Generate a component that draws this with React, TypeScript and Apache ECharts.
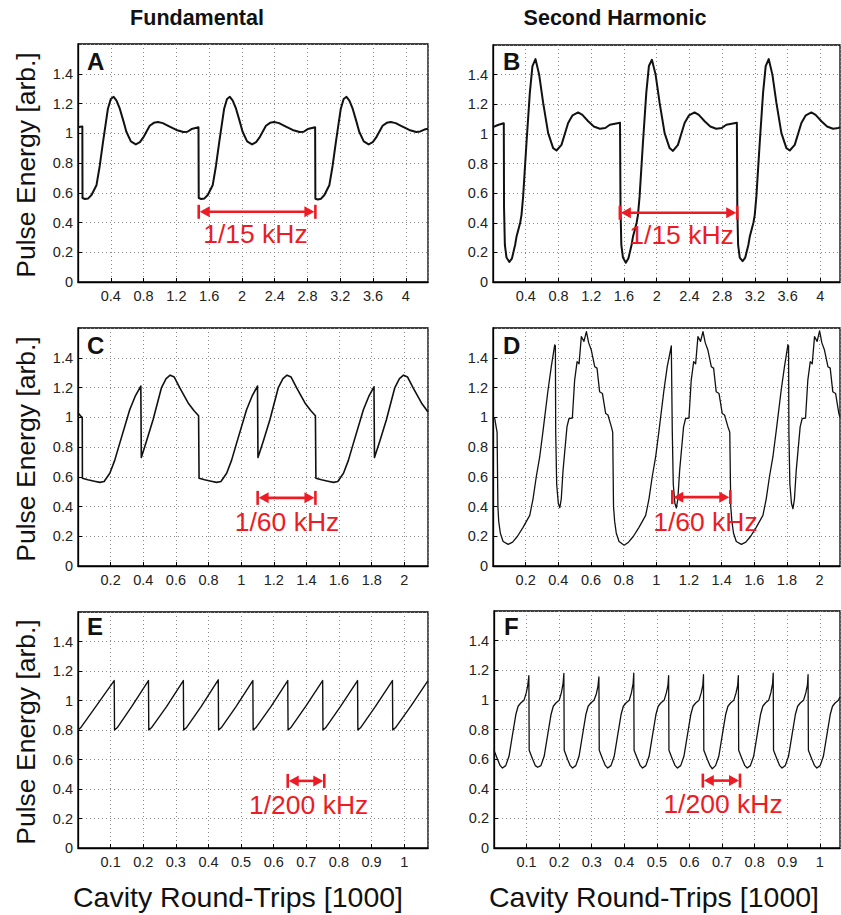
import React, { useEffect, useRef } from 'react';
import * as echarts from 'echarts';

const FONT = '"Liberation Sans", Arial, Helvetica, sans-serif';
const RED = '#ED1C24';
const LINE = '#111111';

const columnTitles = ['Fundamental', 'Second Harmonic'];
const panelLetters = ['A', 'B', 'C', 'D', 'E', 'F'];
const yAxisTitle = 'Pulse Energy [arb.]';
const xAxisTitle = 'Cavity Round-Trips [1000]';

// x-axis extents and tick spacings [1000 round-trips]
const xMax = [4.27, 4.24, 2.145, 2.125, 1.073, 1.062];
const xInterval = [0.4, 0.4, 0.2, 0.2, 0.1, 0.1];
const yMax = 1.6;
const yInterval = 0.2;

// Panel A: fundamental, 15 kHz modulation
const seriesA = [
  [0, 1.04], [0.03, 1.043], [0.053, 1.045], [0.055, 0.565], [0.085, 0.558], [0.125, 0.562], [0.165, 0.585], [0.225, 0.65], [0.265, 0.78], [0.305, 0.94], [0.365, 1.165], [0.4, 1.23], [0.435, 1.245], [0.47, 1.22], [0.51, 1.165], [0.555, 1.08], [0.59, 1.01], [0.645, 0.945], [0.705, 0.925], [0.755, 0.94], [0.795, 0.97], [0.875, 1.05], [0.925, 1.07], [0.975, 1.075], [1.035, 1.068], [1.1, 1.05], [1.2, 1.022], [1.285, 1.008], [1.335, 1.01], [1.385, 1.028], [1.47, 1.04],
  [1.473, 0.565], [1.503, 0.558], [1.543, 0.562], [1.583, 0.585], [1.643, 0.65], [1.683, 0.78], [1.723, 0.94], [1.783, 1.165], [1.818, 1.23], [1.853, 1.245], [1.888, 1.22], [1.928, 1.165], [1.973, 1.08], [2.008, 1.01], [2.063, 0.945], [2.123, 0.925], [2.173, 0.94], [2.213, 0.97], [2.293, 1.05], [2.343, 1.07], [2.393, 1.075], [2.453, 1.068], [2.518, 1.05], [2.618, 1.022], [2.703, 1.008], [2.753, 1.01], [2.803, 1.028], [2.893, 1.04],
  [2.896, 0.56], [2.926, 0.555], [2.966, 0.56], [3.006, 0.585], [3.066, 0.65], [3.106, 0.78], [3.146, 0.94], [3.206, 1.165], [3.241, 1.23], [3.276, 1.245], [3.311, 1.22], [3.351, 1.165], [3.396, 1.08], [3.431, 1.01], [3.486, 0.945], [3.546, 0.925], [3.596, 0.94], [3.636, 0.97], [3.716, 1.05], [3.766, 1.07], [3.816, 1.075], [3.876, 1.068], [3.941, 1.05], [4.041, 1.022], [4.126, 1.008], [4.176, 1.012], [4.226, 1.025], [4.27, 1.03],
];

// Panel B: second harmonic, 15 kHz modulation
const seriesB = [
  [0, 1.045], [0.06, 1.06], [0.12, 1.07], [0.132, 1.072], [0.135, 0.5], [0.145, 0.25], [0.165, 0.165], [0.2, 0.135], [0.232, 0.16], [0.27, 0.25], [0.287, 0.305], [0.332, 0.4], [0.348, 0.452], [0.368, 0.576], [0.409, 0.938], [0.45, 1.277], [0.482, 1.458], [0.519, 1.505], [0.564, 1.4], [0.613, 1.209], [0.674, 1.005], [0.735, 0.904], [0.776, 0.888], [0.837, 0.926], [0.918, 1.073], [0.972, 1.125], [1.04, 1.145], [1.092, 1.128], [1.163, 1.085], [1.232, 1.05], [1.305, 1.035], [1.372, 1.04], [1.428, 1.062], [1.552, 1.075],
  [1.558, 0.5], [1.568, 0.25], [1.588, 0.165], [1.623, 0.13], [1.655, 0.16], [1.693, 0.25], [1.71, 0.305], [1.755, 0.4], [1.771, 0.452], [1.791, 0.576], [1.832, 0.938], [1.873, 1.277], [1.905, 1.458], [1.942, 1.5], [1.987, 1.4], [2.036, 1.209], [2.097, 1.005], [2.158, 0.904], [2.199, 0.885], [2.26, 0.926], [2.341, 1.073], [2.395, 1.125], [2.463, 1.145], [2.515, 1.128], [2.586, 1.085], [2.655, 1.05], [2.728, 1.035], [2.795, 1.04], [2.851, 1.062], [2.98, 1.075],
  [2.985, 0.5], [2.995, 0.25], [3.015, 0.165], [3.05, 0.14], [3.082, 0.165], [3.12, 0.25], [3.137, 0.305], [3.182, 0.4], [3.198, 0.452], [3.218, 0.576], [3.259, 0.938], [3.3, 1.277], [3.332, 1.458], [3.369, 1.505], [3.414, 1.4], [3.463, 1.209], [3.524, 1.005], [3.585, 0.904], [3.626, 0.888], [3.687, 0.926], [3.768, 1.073], [3.822, 1.125], [3.89, 1.145], [3.942, 1.128], [4.013, 1.085], [4.082, 1.05], [4.155, 1.035], [4.222, 1.04], [4.24, 1.045],
];

// Panel C: fundamental, 60 kHz modulation
const seriesC = [
  [0, 1.03], [0.015, 1.01], [0.026, 1.0], [0.027, 0.59], [0.06, 0.58], [0.1, 0.57], [0.134, 0.562], [0.16, 0.568], [0.195, 0.623], [0.225, 0.71], [0.256, 0.826], [0.317, 1.05], [0.35, 1.14], [0.385, 1.21], [0.388, 0.73], [0.42, 0.84], [0.46, 0.983], [0.511, 1.197], [0.54, 1.26], [0.565, 1.283], [0.59, 1.27], [0.624, 1.197], [0.675, 1.096], [0.71, 1.045], [0.739, 1.01],
  [0.742, 0.59], [0.776, 0.58], [0.816, 0.57], [0.85, 0.562], [0.876, 0.568], [0.911, 0.623], [0.941, 0.71], [0.972, 0.826], [1.033, 1.05], [1.066, 1.14], [1.1, 1.21], [1.103, 0.73], [1.136, 0.84], [1.176, 0.983], [1.227, 1.197], [1.256, 1.26], [1.281, 1.283], [1.306, 1.27], [1.34, 1.197], [1.391, 1.096], [1.426, 1.045], [1.455, 1.01],
  [1.458, 0.59], [1.492, 0.58], [1.532, 0.57], [1.566, 0.562], [1.592, 0.568], [1.627, 0.623], [1.657, 0.71], [1.688, 0.826], [1.749, 1.05], [1.782, 1.14], [1.814, 1.205], [1.817, 0.73], [1.85, 0.84], [1.89, 0.983], [1.941, 1.197], [1.97, 1.26], [1.995, 1.283], [2.02, 1.27], [2.054, 1.197], [2.105, 1.096], [2.145, 1.035],
];

// Panel D: second harmonic, 60 kHz modulation
const seriesD = [
  [0, 1.0], [0.011, 0.99], [0.02, 0.93], [0.025, 0.9], [0.03, 0.4], [0.035, 0.3], [0.045, 0.22], [0.062, 0.165], [0.093, 0.145], [0.12, 0.16], [0.15, 0.2], [0.184, 0.26], [0.225, 0.34], [0.245, 0.45], [0.265, 0.6], [0.286, 0.733], [0.307, 0.913], [0.337, 1.183], [0.357, 1.34], [0.378, 1.486], [0.382, 1.48], [0.384, 0.9], [0.39, 0.55], [0.4, 0.42], [0.409, 0.392], [0.418, 0.45], [0.429, 0.643], [0.453, 0.935], [0.465, 0.99], [0.486, 0.995], [0.5, 1.25], [0.515, 1.374], [0.527, 1.36], [0.541, 1.542], [0.557, 1.51], [0.572, 1.576], [0.586, 1.5], [0.602, 1.452], [0.623, 1.34], [0.637, 1.33], [0.653, 1.171], [0.67, 1.16], [0.69, 1.025], [0.704, 1.015], [0.725, 0.935], [0.733, 0.9],
  [0.738, 0.4], [0.745, 0.3], [0.755, 0.22], [0.772, 0.165], [0.803, 0.14], [0.83, 0.16], [0.86, 0.2], [0.894, 0.26], [0.935, 0.34], [0.955, 0.45], [0.975, 0.6], [0.996, 0.733], [1.017, 0.913], [1.047, 1.183], [1.067, 1.34], [1.092, 1.48], [1.096, 1.48], [1.098, 0.9], [1.104, 0.55], [1.114, 0.42], [1.123, 0.39], [1.132, 0.45], [1.143, 0.643], [1.167, 0.935], [1.179, 0.99], [1.2, 0.995], [1.214, 1.25], [1.229, 1.374], [1.241, 1.36], [1.255, 1.542], [1.271, 1.51], [1.286, 1.576], [1.3, 1.5], [1.316, 1.452], [1.337, 1.34], [1.351, 1.33], [1.367, 1.171], [1.384, 1.16], [1.404, 1.025], [1.418, 1.015], [1.439, 0.935], [1.45, 0.9],
  [1.456, 0.4], [1.463, 0.3], [1.473, 0.22], [1.49, 0.165], [1.521, 0.145], [1.548, 0.16], [1.578, 0.2], [1.612, 0.26], [1.653, 0.34], [1.673, 0.45], [1.693, 0.6], [1.714, 0.733], [1.735, 0.913], [1.765, 1.183], [1.785, 1.34], [1.806, 1.486], [1.81, 1.48], [1.812, 0.9], [1.818, 0.55], [1.828, 0.42], [1.837, 0.385], [1.846, 0.45], [1.857, 0.643], [1.881, 0.935], [1.893, 0.99], [1.914, 0.995], [1.928, 1.25], [1.943, 1.374], [1.955, 1.36], [1.969, 1.542], [1.985, 1.51], [2.0, 1.58], [2.014, 1.5], [2.03, 1.452], [2.051, 1.34], [2.065, 1.33], [2.081, 1.171], [2.098, 1.16], [2.118, 1.025], [2.125, 1.0],
];

// Panel E: fundamental, 200 kHz modulation
const seriesE = [
  [0, 0.8], [0.008, 0.815], [0.055, 0.96], [0.111, 1.135], [0.112, 0.8], [0.12, 0.815], [0.165, 0.96], [0.216, 1.135], [0.217, 0.8], [0.225, 0.815], [0.272, 0.96], [0.323, 1.135], [0.324, 0.8], [0.332, 0.815], [0.378, 0.96], [0.43, 1.14], [0.431, 0.8], [0.439, 0.815], [0.485, 0.96], [0.536, 1.135], [0.537, 0.8], [0.545, 0.815], [0.592, 0.96], [0.643, 1.135], [0.644, 0.8], [0.652, 0.815], [0.698, 0.96], [0.75, 1.135], [0.751, 0.8], [0.759, 0.815], [0.805, 0.96], [0.857, 1.135], [0.858, 0.8], [0.866, 0.815], [0.912, 0.96], [0.964, 1.135], [0.965, 0.8], [0.973, 0.815], [1.02, 0.96], [1.073, 1.135],
];

// Panel F: second harmonic, 200 kHz modulation
const seriesF = [
  [0, 0.66], [0.011, 0.597], [0.019, 0.556], [0.026, 0.54], [0.036, 0.556], [0.046, 0.619], [0.056, 0.754], [0.067, 0.901], [0.074, 0.957], [0.082, 0.979], [0.092, 0.997], [0.099, 1.047], [0.104, 1.103], [0.107, 1.164],
  [0.108, 0.66], [0.119, 0.597], [0.127, 0.556], [0.134, 0.545], [0.144, 0.556], [0.154, 0.619], [0.164, 0.754], [0.175, 0.901], [0.182, 0.957], [0.19, 0.979], [0.2, 0.997], [0.207, 1.05], [0.212, 1.11], [0.2145, 1.178],
  [0.2155, 0.66], [0.226, 0.597], [0.234, 0.556], [0.241, 0.54], [0.251, 0.556], [0.261, 0.619], [0.271, 0.754], [0.282, 0.901], [0.289, 0.957], [0.297, 0.979], [0.307, 0.997], [0.314, 1.04], [0.319, 1.09], [0.322, 1.155],
  [0.323, 0.66], [0.334, 0.597], [0.342, 0.556], [0.349, 0.54], [0.359, 0.556], [0.369, 0.619], [0.379, 0.754], [0.39, 0.901], [0.397, 0.957], [0.405, 0.979], [0.415, 0.997], [0.422, 1.05], [0.427, 1.11], [0.429, 1.18],
  [0.43, 0.66], [0.441, 0.597], [0.449, 0.556], [0.456, 0.54], [0.466, 0.556], [0.476, 0.619], [0.486, 0.754], [0.497, 0.901], [0.504, 0.957], [0.512, 0.979], [0.522, 0.997], [0.529, 1.047], [0.534, 1.1], [0.536, 1.164],
  [0.537, 0.66], [0.548, 0.597], [0.556, 0.556], [0.563, 0.54], [0.573, 0.556], [0.583, 0.619], [0.593, 0.754], [0.604, 0.901], [0.611, 0.957], [0.619, 0.979], [0.629, 0.997], [0.636, 1.047], [0.641, 1.1], [0.643, 1.17],
  [0.644, 0.66], [0.655, 0.597], [0.663, 0.556], [0.67, 0.535], [0.68, 0.556], [0.69, 0.619], [0.7, 0.754], [0.711, 0.901], [0.718, 0.957], [0.726, 0.979], [0.736, 0.997], [0.743, 1.047], [0.748, 1.1], [0.75, 1.164],
  [0.751, 0.66], [0.762, 0.597], [0.77, 0.556], [0.777, 0.54], [0.787, 0.556], [0.797, 0.619], [0.807, 0.754], [0.818, 0.901], [0.825, 0.957], [0.833, 0.979], [0.843, 0.997], [0.85, 1.05], [0.855, 1.11], [0.857, 1.18],
  [0.858, 0.66], [0.869, 0.597], [0.877, 0.556], [0.884, 0.54], [0.894, 0.556], [0.904, 0.619], [0.914, 0.754], [0.925, 0.901], [0.932, 0.957], [0.94, 0.979], [0.95, 0.997], [0.957, 1.047], [0.962, 1.1], [0.964, 1.17],
  [0.965, 0.66], [0.976, 0.597], [0.984, 0.556], [0.991, 0.54], [1.001, 0.556], [1.011, 0.619], [1.021, 0.754], [1.032, 0.901], [1.039, 0.957], [1.047, 0.979], [1.057, 0.997], [1.062, 1.02],
];

// Period annotations: [x start, x end, y of arrow, text x, text y]
const arrowA = [1.473, 2.896, 0.472, 2.165, 0.325];
const arrowB = [1.55, 2.984, 0.468, 2.304, 0.32];
const arrowC = [1.101, 1.455, 0.458, 1.281, 0.296];
const arrowD = [1.098, 1.453, 0.463, 1.301, 0.295];
const arrowE = [0.643, 0.755, 0.455, 0.707, 0.293];
const arrowF = [0.641, 0.755, 0.455, 0.703, 0.3];
const arrowLabels = ['1/15 kHz', '1/15 kHz', '1/60 kHz', '1/60 kHz', '1/200 kHz', '1/200 kHz'];

const allSeries = [seriesA, seriesB, seriesC, seriesD, seriesE, seriesF];
const allArrows = [arrowA, arrowB, arrowC, arrowD, arrowE, arrowF];
const lineWidths = [2, 2, 1.6, 1.3, 1.4, 1.3];

// layout (pixels)
const grids = [
  { left: 78, top: 44, width: 350, height: 238 },
  { left: 493, top: 45, width: 347, height: 237 },
  { left: 78, top: 328, width: 350, height: 238 },
  { left: 493, top: 328, width: 347, height: 238 },
  { left: 78, top: 612, width: 350, height: 236 },
  { left: 494, top: 611, width: 346, height: 237 },
];
const letterPos = [[87, 61], [503, 61], [87, 345], [503, 345], [87, 626], [504, 626]];

export default function App() {
  const ref = useRef<HTMLDivElement>(null);
  useEffect(() => {
    if (!ref.current) return;
    const chart = echarts.init(ref.current, undefined, { renderer: 'svg' });

    const xAxes = grids.map((_, i) => ({
      type: 'value',
      gridIndex: i,
      min: 0,
      max: xMax[i],
      interval: xInterval[i],
      axisLine: { show: true, lineStyle: { color: '#000', width: 1.3 } },
      axisTick: { show: true, inside: true, length: 4, lineStyle: { color: '#000' } },
      axisLabel: { showMinLabel: false, showMaxLabel: false, fontSize: 14.5, color: '#222', margin: 6, fontFamily: FONT },
      splitLine: { show: true, lineStyle: { color: '#8a8a8a', type: [1, 3], width: 1 } },
    }));
    const yAxes = grids.map((_, i) => ({
      type: 'value',
      gridIndex: i,
      min: 0,
      max: yMax,
      interval: yInterval,
      axisLine: { show: true, lineStyle: { color: '#000', width: 1.3 } },
      axisTick: { show: true, inside: true, length: 4, lineStyle: { color: '#000' } },
      axisLabel: { showMaxLabel: false, fontSize: 14.5, color: '#222', margin: 5, fontFamily: FONT },
      splitLine: { show: true, lineStyle: { color: '#8a8a8a', type: [1, 3], width: 1 } },
    }));

    const lineSeries = allSeries.map((d, i) => ({
      type: 'line',
      xAxisIndex: i,
      yAxisIndex: i,
      data: d,
      showSymbol: false,
      symbol: 'none',
      lineStyle: { color: LINE, width: lineWidths[i], join: 'round' },
      z: 3,
    }));

    const arrowSeries = allArrows.map((a, i) => ({
      type: 'custom',
      xAxisIndex: i,
      yAxisIndex: i,
      data: [a],
      z: 5,
      clip: false,
      renderItem: (params: any, api: any) => {
        const p1 = api.coord([api.value(0), api.value(2)]);
        const p2 = api.coord([api.value(1), api.value(2)]);
        const t = api.coord([api.value(3), api.value(4)]);
        const y = p1[1];
        const ah = 10;
        const hw = 5.5;
        const bh = 7;
        return {
          type: 'group',
          children: [
            { type: 'line', shape: { x1: p1[0] + ah - 1, y1: y, x2: p2[0] - ah + 1, y2: y }, style: { stroke: RED, lineWidth: 2.6 } },
            { type: 'polygon', shape: { points: [[p1[0] + 1, y], [p1[0] + ah + 1, y - hw], [p1[0] + ah + 1, y + hw]] }, style: { fill: RED } },
            { type: 'polygon', shape: { points: [[p2[0] - 1, y], [p2[0] - ah - 1, y - hw], [p2[0] - ah - 1, y + hw]] }, style: { fill: RED } },
            { type: 'line', shape: { x1: p1[0], y1: y - bh, x2: p1[0], y2: y + bh }, style: { stroke: RED, lineWidth: 2.6 } },
            { type: 'line', shape: { x1: p2[0], y1: y - bh, x2: p2[0], y2: y + bh }, style: { stroke: RED, lineWidth: 2.6 } },
            {
              type: 'text',
              x: t[0],
              y: t[1],
              style: { text: arrowLabels[i], fill: RED, fontSize: 26.5, fontFamily: FONT, align: 'center', verticalAlign: 'middle', textAlign: 'center', textVerticalAlign: 'middle' },
            },
          ],
        };
      },
    }));

    const textStyle = (text: string, size: number, weight: string, color = '#111') => ({
      text,
      fill: color,
      fontSize: size,
      fontWeight: weight,
      fontFamily: FONT,
      align: 'center',
      verticalAlign: 'middle',
      textAlign: 'center',
      textVerticalAlign: 'middle',
    });

    const graphics: any[] = [
      { type: 'text', x: 197, y: 18, style: textStyle(columnTitles[0], 21.5, 'bold') },
      { type: 'text', x: 615, y: 18, style: textStyle(columnTitles[1], 21.5, 'bold') },
      { type: 'text', x: 238, y: 897, style: textStyle(xAxisTitle, 28.5, 'normal') },
      { type: 'text', x: 654, y: 897, style: textStyle(xAxisTitle, 28.5, 'normal') },
    ];
    [0, 2, 4].forEach((gi) => {
      const g = grids[gi];
      graphics.push({ type: 'text', x: 26, y: g.top + g.height / 2 + 2, rotation: Math.PI / 2, style: textStyle(yAxisTitle, 26.5, 'normal') });
    });
    panelLetters.forEach((l, i) => {
      graphics.push({
        type: 'text',
        x: letterPos[i][0],
        y: letterPos[i][1],
        style: { text: l, fill: '#111', fontSize: 24, fontWeight: 'bold', fontFamily: FONT, align: 'left', verticalAlign: 'middle', textAlign: 'left', textVerticalAlign: 'middle' },
        z: 10,
      });
    });

    chart.setOption({
      animation: false,
      backgroundColor: '#ffffff',
      grid: grids.map((g) => ({ ...g, show: true, borderColor: '#000', borderWidth: 1.3, backgroundColor: 'transparent', containLabel: false })),
      xAxis: xAxes,
      yAxis: yAxes,
      series: [...lineSeries, ...arrowSeries],
      graphic: graphics,
    } as any);

    return () => chart.dispose();
  }, []);

  return <div ref={ref} style={{ position: 'fixed', left: 0, top: 0, width: 841, height: 915, background: '#fff' }} />;
}
